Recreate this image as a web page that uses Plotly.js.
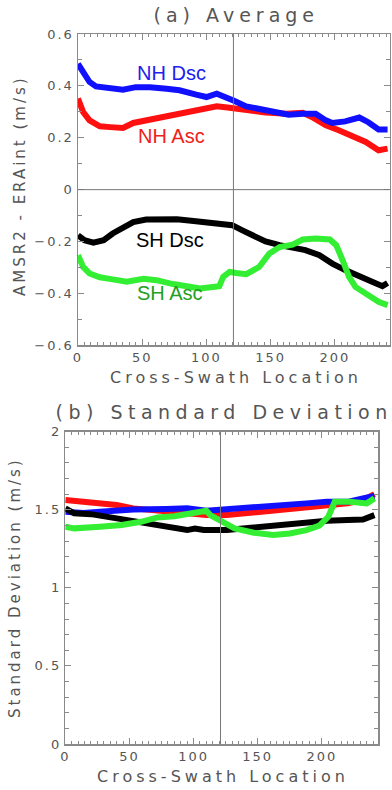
<!DOCTYPE html>
<html><head><meta charset="utf-8">
<script src="https://cdn.plot.ly/plotly-3.0.1.min.js"></script>
<style>
html,body{margin:0;padding:0;background:#fff;}
#chart{width:392px;height:790px;}
.xtick text,.ytick text,.x2tick text,.y2tick text{letter-spacing:2px;}
g.annotation[data-index="0"] text{letter-spacing:5px;}
g.annotation[data-index="1"] text{letter-spacing:5.5px;}
g.annotation[data-index="2"] text,g.annotation[data-index="3"] text{letter-spacing:4px;}
g.annotation[data-index="4"] text,g.annotation[data-index="5"] text{letter-spacing:3px;}
</style></head><body><div id="chart"></div>
<script>
// ---- Panel (a): Average AMSR2 - ERAint (m/s) ----
var nhDscX = [0,4,9,14,25,35,45,56,69,79,92,100,108,115,121,131,141,151,164,175,185,193,198,208,219,226,234,241];
var nhDscY = [0.485,0.455,0.415,0.398,0.392,0.385,0.395,0.395,0.389,0.383,0.366,0.357,0.37,0.357,0.344,0.321,0.312,0.306,0.289,0.293,0.293,0.267,0.257,0.263,0.278,0.26,0.232,0.232];
var nhAscX = [0,2,4,9,17,25,35,43,56,69,82,95,108,118,131,146,162,175,182,193,203,213,224,234,241];
var nhAscY = [0.351,0.32,0.299,0.267,0.244,0.241,0.238,0.257,0.27,0.28,0.295,0.306,0.321,0.316,0.306,0.297,0.293,0.296,0.28,0.248,0.229,0.21,0.184,0.152,0.158];
var shDscX = [0,5,12,20,27,35,43,53,64,77,90,105,120,128,136,146,157,167,177,188,198,208,219,229,237,241];
var shDscY = [-0.176,-0.195,-0.204,-0.195,-0.169,-0.15,-0.125,-0.115,-0.112,-0.114,-0.121,-0.131,-0.137,-0.157,-0.176,-0.2,-0.214,-0.224,-0.233,-0.253,-0.285,-0.31,-0.336,-0.355,-0.372,-0.36];
var shAscX = [0,4,9,17,27,38,51,61,74,84,95,105,110,113,118,123,131,141,149,157,167,175,185,196,201,206,211,216,224,234,241];
var shAscY = [-0.253,-0.298,-0.323,-0.338,-0.346,-0.355,-0.344,-0.349,-0.364,-0.372,-0.381,-0.375,-0.372,-0.336,-0.317,-0.321,-0.326,-0.298,-0.246,-0.221,-0.212,-0.192,-0.188,-0.192,-0.214,-0.272,-0.336,-0.375,-0.4,-0.432,-0.445];

// ---- Panel (b): Standard Deviation (m/s) ----
var sdNhAscX = [0,14,27,40,53,66,79,95,110,126,141,157,173,188,204,220,232,241];
var sdNhAscY = [1.562,1.551,1.541,1.53,1.509,1.498,1.487,1.477,1.466,1.466,1.477,1.487,1.505,1.515,1.53,1.541,1.562,1.6];
var sdNhDscX = [0,14,27,53,79,95,110,126,141,157,173,188,204,220,232,241];
var sdNhDscY = [1.487,1.48,1.487,1.502,1.505,1.509,1.494,1.502,1.515,1.524,1.53,1.541,1.551,1.551,1.573,1.588];
var sdShDscX = [0,7,20,33,46,59,72,85,95,101,108,126,141,157,173,188,204,220,232,241];
var sdShDscY = [1.509,1.477,1.472,1.455,1.434,1.417,1.398,1.381,1.37,1.38,1.37,1.37,1.381,1.402,1.413,1.423,1.43,1.434,1.438,1.466];
var sdShAscX = [0,7,27,44,59,72,85,98,110,113,121,132,147,162,175,188,198,205,210,222,235,241];
var sdShAscY = [1.391,1.381,1.391,1.402,1.423,1.451,1.459,1.477,1.494,1.466,1.434,1.381,1.353,1.338,1.348,1.37,1.398,1.455,1.551,1.551,1.541,1.573];

// labels
var seriesLabels = ["NH Dsc","NH Asc","SH Dsc","SH Asc"];
var labelPosX = [73,73,72,72];
var labelPosY = [0.448,0.206,-0.195,-0.4];
var nadirLine = [121];
var panelTitles = ["(a) Average","(b) Standard Deviation"];
var xTitle = "Cross-Swath Location";
var yTitles = ["AMSR2 - ERAint (m/s)","Standard Deviation (m/s)"];
var yTicksA = [0.6,0.4,0.2,0,-0.2,-0.4,-0.6];
var yTicksB = [0,0.5,1,1.5,2];
var xTicks = [0,50,100,150,200];

var W = 392, H = 790;
function px(x){return x/W;}
function py(y){return 1 - y/H;}

var cBlue = '#1010ff', cRed = '#ff1010', cBlack = '#000000', cGreen = '#33ee33';
var lw = 6;
function tr(x,y,c,xa,ya){return {x:x,y:y,mode:'lines',line:{color:c,width:lw},xaxis:xa,yaxis:ya,hoverinfo:'skip',showlegend:false};}

var data = [
  tr(nhAscX,nhAscY,cRed,'x','y'),
  tr(nhDscX,nhDscY,cBlue,'x','y'),
  tr(shDscX,shDscY,cBlack,'x','y'),
  tr(shAscX,shAscY,cGreen,'x','y'),
  tr(sdNhAscX,sdNhAscY,cRed,'x2','y2'),
  tr(sdNhDscX,sdNhDscY,cBlue,'x2','y2'),
  tr(sdShDscX,sdShDscY,cBlack,'x2','y2'),
  tr(sdShAscX,sdShAscY,cGreen,'x2','y2')
];

var axCol = '#8a8a8a', txtCol = '#555555';
var tickFont = {family:'DejaVu Sans', size:13, color:txtCol};
function axis(extra){
  var a = {showline:true, linecolor:axCol, linewidth:1.5, mirror:'allticks', ticks:'inside', ticklen:6, tickwidth:1, tickcolor:axCol,
    showgrid:false, zeroline:false, automargin:false, tickfont:tickFont, fixedrange:true};
  for (var k in extra) a[k]=extra[k];
  return a;
}

var layout = {
  width:W, height:H, margin:{l:0,r:0,t:0,b:0}, paper_bgcolor:'#fff', plot_bgcolor:'#fff', showlegend:false,
  xaxis: axis({domain:[px(78),px(389.5)], range:[0,242.5], tickvals:xTicks, ticktext:xTicks.map(String), anchor:'y',
    minor:{dtick:5, tick0:0, ticks:'inside', ticklen:3, tickcolor:axCol}}),
  yaxis: axis({domain:[py(345.3),py(34)], range:[-0.6,0.6], tickvals:yTicksA, ticktext:yTicksA.map(function(v){return v===0?'0':(v<0?'\u2212':'')+Math.abs(v).toFixed(1);}), anchor:'x',
    minor:{dtick:0.1, tick0:0, ticks:'inside', ticklen:4, tickcolor:axCol}}),
  xaxis2: axis({domain:[px(65.3),px(378.3)], range:[0,244], tickvals:xTicks, ticktext:xTicks.map(String), anchor:'y2',
    minor:{dtick:5, tick0:0, ticks:'inside', ticklen:3, tickcolor:axCol}}),
  yaxis2: axis({domain:[py(744),py(431.7)], range:[0,2], tickvals:yTicksB, ticktext:yTicksB.map(String), anchor:'x2',
    minor:{dtick:0.1, tick0:0, ticks:'inside', ticklen:4, tickcolor:axCol}}),
  shapes: [
    {type:'line', xref:'x', yref:'y domain', x0:nadirLine[0], x1:nadirLine[0], y0:0, y1:1, line:{color:'#777', width:1}},
    {type:'line', xref:'x domain', yref:'y', x0:0, x1:1, y0:0, y1:0, line:{color:'#777', width:1}},
    {type:'line', xref:'x2', yref:'y2 domain', x0:nadirLine[0], x1:nadirLine[0], y0:0, y1:1, line:{color:'#777', width:1}}
  ],
  annotations: [
    {text:panelTitles[0], xref:'paper', yref:'paper', x:px(236), y:py(15), showarrow:false, xanchor:'center', yanchor:'middle', font:{family:'DejaVu Sans', size:19, color:txtCol}},
    {text:panelTitles[1], xref:'paper', yref:'paper', x:px(224), y:py(412), showarrow:false, xanchor:'center', yanchor:'middle', font:{family:'DejaVu Sans', size:19, color:txtCol}},
    {text:xTitle, xref:'paper', yref:'paper', x:px(236), y:py(377), showarrow:false, xanchor:'center', yanchor:'middle', font:{family:'DejaVu Sans', size:16, color:txtCol}},
    {text:xTitle, xref:'paper', yref:'paper', x:px(223), y:py(776), showarrow:false, xanchor:'center', yanchor:'middle', font:{family:'DejaVu Sans', size:16, color:txtCol}},
    {text:yTitles[0], xref:'paper', yref:'paper', x:px(20), y:py(186), showarrow:false, xanchor:'center', yanchor:'middle', textangle:-90, font:{family:'DejaVu Sans', size:15, color:txtCol}},
    {text:yTitles[1], xref:'paper', yref:'paper', x:px(15), y:py(588), showarrow:false, xanchor:'center', yanchor:'middle', textangle:-90, font:{family:'DejaVu Sans', size:15, color:txtCol}},
    {text:seriesLabels[0], xref:'x', yref:'y', x:labelPosX[0], y:labelPosY[0], showarrow:false, font:{family:'Liberation Sans', size:20, color:'#2020ee'}},
    {text:seriesLabels[1], xref:'x', yref:'y', x:labelPosX[1], y:labelPosY[1], showarrow:false, font:{family:'Liberation Sans', size:20, color:'#ee2020'}},
    {text:seriesLabels[2], xref:'x', yref:'y', x:labelPosX[2], y:labelPosY[2], showarrow:false, font:{family:'Liberation Sans', size:20, color:'#000'}},
    {text:seriesLabels[3], xref:'x', yref:'y', x:labelPosX[3], y:labelPosY[3], showarrow:false, font:{family:'Liberation Sans', size:20, color:'#22a022'}}
  ]
};

Plotly.newPlot('chart', data, layout, {displayModeBar:false, staticPlot:true});
</script></body></html>
